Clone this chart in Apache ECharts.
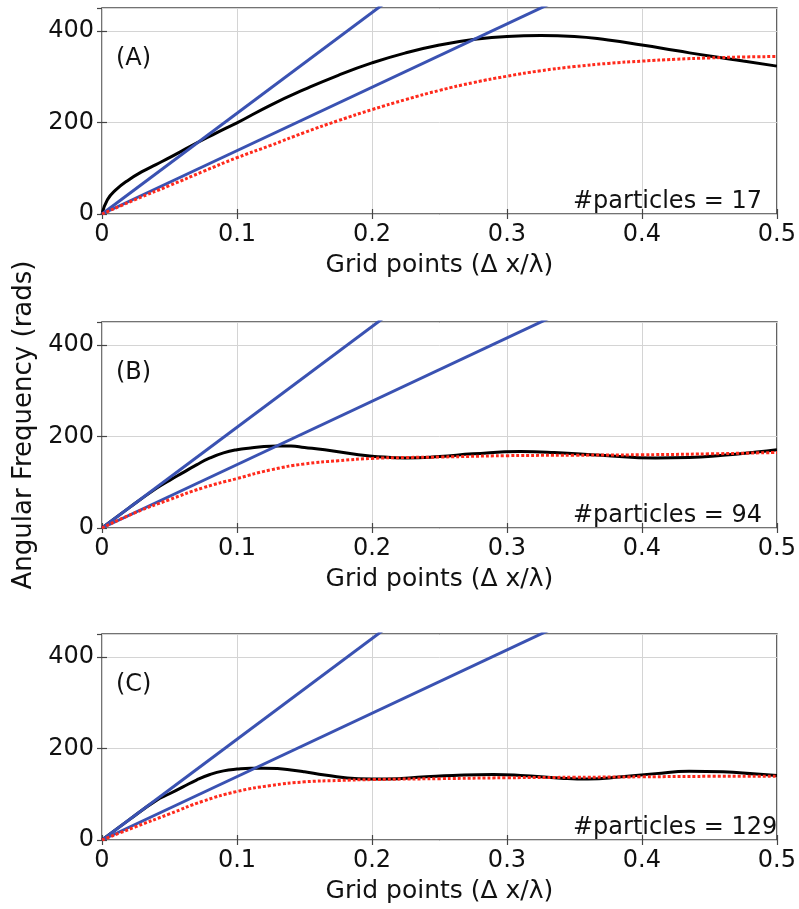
<!DOCTYPE html>
<html>
<head>
<meta charset="utf-8">
<script src="https://cdn.jsdelivr.net/npm/echarts@6/dist/echarts.min.js"></script>
<style>html,body{margin:0;padding:0;background:#fff}#c{width:799px;height:909px}</style>
</head>
<body>
<div id="c"></div>
<script>
// ---- data ----
const panelLabels = ['(A)', '(B)', '(C)'];
const particleLabels = ['#particles = 17', '#particles = 94', '#particles = 129'];
const xTicks = [0, 0.1, 0.2, 0.3, 0.4, 0.5];
const yTicks = [0, 200, 400];

// reference straight lines (same in every panel): [x, y] end points
const blueSteepX = [0, 0.5];
const blueSteepY = [0, 1100];
const blueShallowX = [0, 0.5];
const blueShallowY = [0, 692];

// Panel A
const blackAX = [0, 0.004, 0.01, 0.02, 0.03, 0.04, 0.05, 0.06, 0.07, 0.08, 0.09, 0.1, 0.125, 0.15, 0.175, 0.2, 0.225, 0.25, 0.275, 0.3, 0.325, 0.35, 0.375, 0.4, 0.425, 0.45, 0.475, 0.5];
const blackAY = [0, 31, 52, 75, 93, 108, 123, 139, 155, 170, 185, 199, 238, 272, 303, 330, 352, 369, 381, 388, 390, 388, 380, 369, 357, 345, 334, 323];
const redAX = [0, 0.025, 0.05, 0.075, 0.1, 0.125, 0.15, 0.175, 0.2, 0.225, 0.25, 0.275, 0.3, 0.325, 0.35, 0.375, 0.4, 0.425, 0.45, 0.475, 0.5];
const redAY = [0, 32, 62, 93, 123, 150, 178, 204, 228, 250, 270, 287, 301, 313, 322, 329, 334, 338, 341, 343, 344];

// Panel B
const blackBX = [0, 0.02, 0.04, 0.05, 0.06, 0.07, 0.08, 0.09, 0.1, 0.11, 0.12, 0.13, 0.14, 0.15, 0.165, 0.19, 0.2, 0.225, 0.25, 0.275, 0.31, 0.335, 0.37, 0.41, 0.435, 0.46, 0.485, 0.5];
const blackBY = [0, 44, 86, 104, 121, 138, 153, 164, 171, 175, 178, 179, 179, 176, 171, 160, 157, 153, 156, 162, 167, 165, 159, 153, 154, 159, 166, 171];
const redBX = [0, 0.025, 0.05, 0.075, 0.1, 0.125, 0.15, 0.175, 0.2, 0.225, 0.25, 0.3, 0.35, 0.4, 0.45, 0.5];
const redBY = [0, 34, 62, 88, 108, 127, 140, 147, 152, 154, 155, 158, 159, 160, 162, 165];

// Panel C
const blackCX = [0, 0.02, 0.04, 0.05, 0.06, 0.07, 0.08, 0.09, 0.1, 0.11, 0.12, 0.13, 0.14, 0.15, 0.165, 0.19, 0.21, 0.24, 0.26, 0.29, 0.31, 0.34, 0.36, 0.385, 0.41, 0.435, 0.46, 0.485, 0.5];
const blackCY = [0, 44, 86, 101, 116, 131, 143, 151, 155, 157, 157, 156, 153, 149, 142, 134, 133, 138, 141, 143, 141, 135, 133, 138, 145, 150, 149, 144, 141];
const redCX = [0, 0.025, 0.05, 0.075, 0.1, 0.125, 0.15, 0.175, 0.2, 0.25, 0.3, 0.35, 0.4, 0.45, 0.5];
const redCY = [0, 29, 57, 85, 106, 119, 127, 130, 132, 134, 136, 137, 138, 139, 139];

// ---- build ----
const zip = (xs, ys) => xs.map((x, i) => [x, ys[i]]);
const panels = [
  { black: zip(blackAX, blackAY), red: zip(redAX, redAY) },
  { black: zip(blackBX, blackBY), red: zip(redBX, redBY) },
  { black: zip(blackCX, blackCY), red: zip(redCX, redCY) }
];

const FONT = '"DejaVu Sans", Arial, sans-serif';
const gridTops = [8, 322, 634];
const gridH = 206;
const gridLeft = 102, gridRight = 21;
const frameColor = '#454545';
const textColor = '#111';

const grids = [], xAxes = [], yAxes = [], series = [], graphics = [];
gridTops.forEach((top, i) => {
  grids.push({ left: gridLeft, right: gridRight, top: top, height: gridH, show: true, borderColor: frameColor, borderWidth: 1.5, backgroundColor: '#fff' });
  const xBase = {
    gridIndex: i, type: 'value', min: xTicks[0], max: xTicks[xTicks.length - 1], interval: 0.1,
    axisLine: { show: false },
    axisTick: { show: true, inside: true, length: 5, lineStyle: { color: frameColor, width: 1.2 } }
  };
  xAxes.push(Object.assign({}, xBase, {
    position: 'bottom',
    name: 'Grid points (\u0394 x/\u03bb)', nameLocation: 'middle', nameGap: 39,
    nameTextStyle: { fontFamily: FONT, fontSize: 25, color: textColor },
    axisLabel: { fontFamily: FONT, fontSize: 24, color: textColor, margin: 9 },
    splitLine: { show: true, lineStyle: { color: '#d4d4d4', width: 1 } }
  }));
  xAxes.push(Object.assign({}, xBase, {
    position: 'top', axisLabel: { show: false }, splitLine: { show: false }
  }));
  const yBase = {
    gridIndex: i, type: 'value', min: 0, max: 450, interval: 200,
    axisLine: { show: false },
    axisTick: { show: true, inside: true, length: 5, lineStyle: { color: frameColor, width: 1.2 } }
  };
  const yMain = Object.assign({}, yBase, {
    position: 'left',
    axisLabel: { fontFamily: FONT, fontSize: 24, color: textColor, margin: 8, showMaxLabel: false,
      formatter: v => (yTicks.indexOf(v) >= 0 ? String(v) : '') },
    splitLine: { show: true, lineStyle: { color: '#d4d4d4', width: 1 } }
  });
  if (i === 1) {
    Object.assign(yMain, {
      name: 'Angular Frequency (rads)', nameLocation: 'middle', nameGap: 63,
      nameTextStyle: { fontFamily: FONT, fontSize: 26, color: textColor }
    });
  }
  yAxes.push(yMain);
  yAxes.push(Object.assign({}, yBase, { position: 'right', axisLabel: { show: false }, splitLine: { show: false } }));

  const xi = i * 2, yi = i * 2;
  series.push({ type: 'line', xAxisIndex: xi, yAxisIndex: yi, data: panels[i].black, smooth: true, showSymbol: false, z: 3,
    lineStyle: { color: '#000', width: 3 } });
  series.push({ type: 'line', xAxisIndex: xi, yAxisIndex: yi, data: zip(blueSteepX, blueSteepY), showSymbol: false, clip: true, z: 4,
    lineStyle: { color: '#3a52b2', width: 3 } });
  series.push({ type: 'line', xAxisIndex: xi, yAxisIndex: yi, data: zip(blueShallowX, blueShallowY), showSymbol: false, clip: true, z: 4,
    lineStyle: { color: '#3a52b2', width: 3 } });
  series.push({ type: 'line', xAxisIndex: xi, yAxisIndex: yi, data: panels[i].red, smooth: true, showSymbol: false, z: 5,
    lineStyle: { color: '#ff2a1c', width: 3, type: [3, 2] } });

  graphics.push({ type: 'text', left: 116, top: top + 52 - 13,
    style: { text: panelLabels[i], font: '24px ' + FONT, fill: textColor } });
  graphics.push({ type: 'text', left: 573, top: top + gridH - 24,
    style: { text: particleLabels[i], font: '24px ' + FONT, fill: textColor } });
});

const chart = echarts.init(document.getElementById('c'), null, { renderer: 'canvas' });
chart.setOption({
  animation: false,
  backgroundColor: '#fff',
  grid: grids, xAxis: xAxes, yAxis: yAxes, series: series, graphic: graphics
});
</script>
</body>
</html>
